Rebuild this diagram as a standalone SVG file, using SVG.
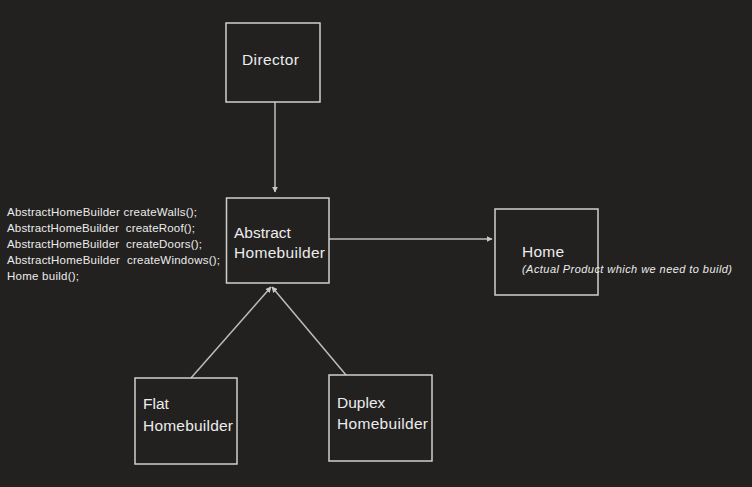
<svg xmlns="http://www.w3.org/2000/svg" width="752" height="487" viewBox="0 0 752 487">
<style>
.box{fill:none;stroke:#cfcfcf;stroke-width:1.5}
.t{font-family:"Liberation Sans",Arial,sans-serif;fill:#ececec;font-size:15.5px}
.code{font-family:"Liberation Sans",Arial,sans-serif;fill:#ececec;font-size:11.5px}
.it{font-family:"Liberation Sans",Arial,sans-serif;fill:#ececec;font-size:11px;font-style:italic}
.ln{stroke:#bdbdbd;stroke-width:1.5;fill:none}
</style>
<defs>
<marker id="ah" viewBox="0 0 10 10" refX="9" refY="5" markerWidth="4" markerHeight="4" orient="auto" markerUnits="strokeWidth">
<path d="M0,0 L10,5 L0,10 z" fill="#c8c8c8"/>
</marker>
</defs>
<rect width="752" height="487" fill="#222120"/>
<g id="connectors">
<line class="ln" x1="275" y1="102" x2="275" y2="192" marker-end="url(#ah)"/>
<line class="ln" x1="329" y1="239" x2="492" y2="239" marker-end="url(#ah)"/>
<line class="ln" x1="191" y1="378" x2="271" y2="287" marker-end="url(#ah)"/>
<line class="ln" x1="346" y1="375" x2="272" y2="287" marker-end="url(#ah)"/>
</g>
<g id="director">
<rect class="box" x="226" y="23" width="94" height="79"/>
<text class="t" x="242" y="65" textLength="57">Director</text>
</g>
<g id="abstract">
<rect class="box" x="226.5" y="198" width="102.5" height="85"/>
<text class="t" x="234" y="238">Abstract</text>
<text class="t" x="234" y="258" textLength="91">Homebuilder</text>
</g>
<g id="home">
<rect class="box" x="495" y="209" width="103" height="86"/>
<text class="t" x="522" y="257" textLength="42">Home</text>
<text class="it" x="522" y="273" textLength="210">(Actual Product which we need to build)</text>
</g>
<g id="flat">
<rect class="box" x="135" y="378" width="102" height="86"/>
<text class="t" x="143" y="409">Flat</text>
<text class="t" x="143" y="431" textLength="90">Homebuilder</text>
</g>
<g id="duplex">
<rect class="box" x="329" y="375" width="103" height="86"/>
<text class="t" x="337" y="408">Duplex</text>
<text class="t" x="337" y="429" textLength="91">Homebuilder</text>
</g>
<g id="code">
<text class="code" x="7" y="216" textLength="190">AbstractHomeBuilder createWalls();</text>
<text class="code" x="7" y="232" textLength="188" xml:space="preserve">AbstractHomeBuilder  createRoof();</text>
<text class="code" x="7" y="248" textLength="195" xml:space="preserve">AbstractHomeBuilder  createDoors();</text>
<text class="code" x="7" y="264" textLength="213" xml:space="preserve">AbstractHomeBuilder  createWindows();</text>
<text class="code" x="7" y="280" textLength="72">Home build();</text>
</g>
</svg>
